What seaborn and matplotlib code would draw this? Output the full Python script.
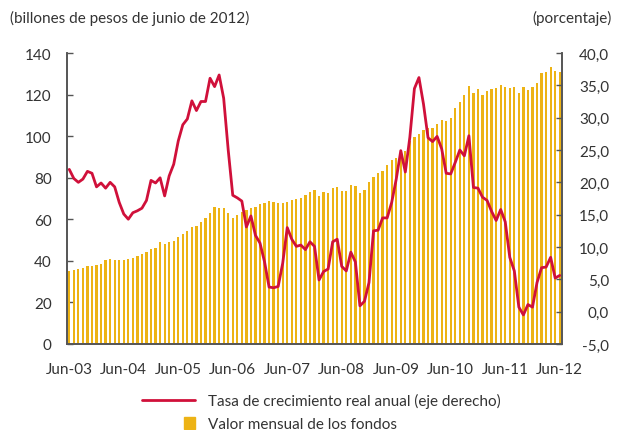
import numpy as np
import matplotlib
matplotlib.use("Agg")
import matplotlib.pyplot as plt
import matplotlib.patches as mpatches
from matplotlib.lines import Line2D
from matplotlib.legend_handler import HandlerPatch
import seaborn as sns

# Datos mensuales jun-2003 a jun-2012
meses = np.arange(109)
etiquetas = ["Jun-03", "Jun-04", "Jun-05", "Jun-06", "Jun-07",
             "Jun-08", "Jun-09", "Jun-10", "Jun-11", "Jun-12"]

# Valor mensual de los fondos (billones de pesos de junio de 2012)
valor = [35.1, 35.7, 36.1, 36.6, 37.4, 37.7, 38.2, 38.7, 40.4, 40.7,
         40.4, 40.2, 40.4, 40.9, 41.5, 42.5, 43.3, 44.3, 45.8, 46.4,
         48.9, 48.1, 49.2, 49.5, 51.3, 52.9, 54.2, 56.4, 56.9, 58.7,
         60.8, 63.2, 66.0, 65.6, 65.2, 62.9, 60.5, 62.1, 63.3, 64.3,
         65.2, 65.7, 67.3, 67.8, 68.6, 68.1, 67.8, 67.6, 68.4, 69.1,
         69.7, 70.4, 71.8, 72.9, 74.1, 71.2, 72.9, 72.6, 75.0, 75.4,
         73.4, 73.8, 76.5, 76.2, 72.5, 74.3, 77.8, 80.2, 82.3, 83.4,
         86.1, 88.5, 89.5, 91.4, 93.0, 97.5, 99.4, 101.2, 102.9, 103.7,
         103.7, 105.8, 107.7, 107.4, 108.5, 113.5, 116.6, 119.8, 124.1, 120.7,
         122.7, 119.8, 121.7, 122.5, 123.0, 124.6, 123.5, 123.0, 123.5, 120.7,
         123.5, 122.2, 123.5, 125.4, 130.2, 131.0, 133.2, 131.3, 130.7]

# Tasa de crecimiento real anual (%)
tasa = [22.0, 20.6, 20.0, 20.5, 21.7, 21.4, 19.3, 19.9, 19.1, 20.0,
        19.3, 16.9, 15.1, 14.3, 15.3, 15.6, 16.0, 17.2, 20.3, 19.9,
        20.7, 17.9, 21.0, 22.8, 26.4, 28.9, 29.8, 32.6, 31.1, 32.5,
        32.5, 36.1, 34.8, 36.6, 33.0, 25.0, 18.0, 17.6, 17.1, 13.1,
        14.8, 11.8, 10.6, 7.7, 3.8, 3.7, 3.9, 7.5, 13.0, 11.2,
        10.1, 10.3, 9.6, 10.8, 10.1, 4.9, 6.2, 6.6, 10.8, 11.2,
        7.0, 6.3, 9.2, 7.7, 0.9, 1.6, 4.5, 12.5, 12.6, 14.5,
        14.5, 16.9, 20.5, 24.9, 21.6, 27.0, 34.5, 36.2, 32.1, 26.9,
        26.3, 27.1, 25.2, 21.4, 21.3, 23.1, 25.0, 24.1, 27.2, 19.2,
        19.1, 17.7, 17.2, 15.5, 14.1, 15.8, 13.9, 8.4, 6.3, 0.7,
        -0.5, 1.1, 0.7, 4.5, 6.8, 6.9, 8.4, 5.2, 5.6]

color_barra = "#EDB315"
color_linea = "#D0103A"
gris = "#555555"
texto = "#333333"
fs = 11

sns.set_theme(style="white")
plt.rcParams["font.family"] = ["Lato", "DejaVu Sans"]
plt.rcParams["font.size"] = fs

fig = plt.figure(figsize=(6.18, 4.31), dpi=100)
ax = fig.add_axes([67 / 618, 1 - 345 / 431, (562 - 67) / 618, (345 - 54) / 431])

sns.barplot(x=meses, y=valor, ax=ax, color=color_barra, saturation=1,
            width=0.5, native_scale=True, linewidth=0)
ax.set_xlim(-0.5, 108.5)
ax.set_ylim(0, 140)
ax.set_yticks(range(0, 141, 20))
ax.set_xticks(meses[::12])
ax.set_xticklabels(etiquetas)
ax.set_xticks(np.arange(-0.5, 108, 12), minor=True)
ax.tick_params(axis="x", which="major", length=0, pad=13, labelsize=fs, colors=texto)
ax.tick_params(axis="x", which="minor", direction="in", length=4, width=1, color=gris)
ax.tick_params(axis="y", direction="in", length=4, width=1, color=gris,
               pad=11, labelsize=fs, labelcolor=texto)
ax.set_xlabel("")
ax.set_ylabel("")

ax2 = ax.twinx()
sns.lineplot(x=meses, y=tasa, ax=ax2, color=color_linea, linewidth=2.0)
ax2.set_ylim(-5, 40)
ax2.set_yticks(np.arange(-5, 41, 5))
ax2.set_yticklabels([f"{v:.1f}".replace(".", ",") for v in np.arange(-5, 41, 5)])
ax2.tick_params(axis="y", direction="in", length=4, width=1, color=gris,
                pad=34, labelsize=fs, labelcolor=texto)
for lab in ax2.get_yticklabels():
    lab.set_horizontalalignment("right")
ax2.set_xlabel("")
ax2.set_ylabel("")

for a in (ax, ax2):
    a.spines["top"].set_visible(False)
    for s in ("left", "right", "bottom"):
        a.spines[s].set_color(gris)
        a.spines[s].set_linewidth(1.2)

fig.text(10 / 618, 1 - 18 / 431, "(billones de pesos de junio de 2012)",
         ha="left", va="center", fontsize=fs, color=texto)
fig.text(612 / 618, 1 - 18 / 431, "(porcentaje)",
         ha="right", va="center", fontsize=fs, color=texto)


def cuadro(legend, orig_handle, xdescent, ydescent, width, height, fontsize):
    lado = 8.6
    return mpatches.Rectangle((width - lado - xdescent, height / 2 - lado / 2 - ydescent),
                              lado, lado)


h_linea = Line2D([], [], color=color_linea, linewidth=2.0)
h_barra = mpatches.Patch(color=color_barra)
fig.legend([h_linea, h_barra],
           ["Tasa de crecimiento real anual (eje derecho)", "Valor mensual de los fondos"],
           loc="upper left", bbox_to_anchor=(142 / 618, 1 - 394 / 431),
           frameon=False, borderpad=0, borderaxespad=0, handlelength=3.5,
           handletextpad=0.85, labelspacing=0.6, fontsize=fs,
           labelcolor=texto,
           handler_map={mpatches.Patch: HandlerPatch(patch_func=cuadro)})

fig.savefig("out.png", dpi=100)
